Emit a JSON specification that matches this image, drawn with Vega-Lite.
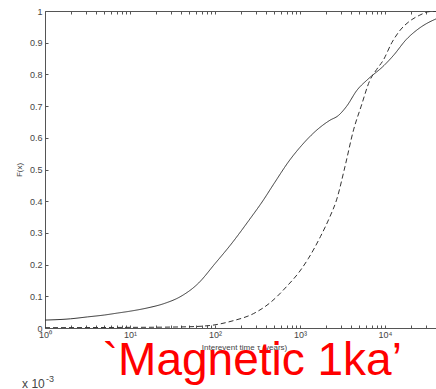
{
  "$schema": "https://vega.github.io/schema/vega-lite/v6.json",
  "autosize": "none",
  "width": 391,
  "height": 317,
  "padding": {"left": 45, "top": 11, "right": 0, "bottom": 61},
  "background": "white",
  "config": {
    "view": {"stroke": null},
    "font": "Liberation Sans",
    "axis": {"domainColor": "#555", "tickColor": "#555", "labelColor": "#444", "titleColor": "#444", "labelFont": "Liberation Sans", "titleFont": "Liberation Sans", "grid": false}
  },
  "datasets": {
    "curves": [
      {"t": 1, "F": 0.025, "model": "solid"},
      {"t": 1.995, "F": 0.029, "model": "solid"},
      {"t": 3.162, "F": 0.035, "model": "solid"},
      {"t": 5.012, "F": 0.041, "model": "solid"},
      {"t": 7.079, "F": 0.047, "model": "solid"},
      {"t": 10, "F": 0.053, "model": "solid"},
      {"t": 15.85, "F": 0.063, "model": "solid"},
      {"t": 25.12, "F": 0.077, "model": "solid"},
      {"t": 39.81, "F": 0.100, "model": "solid"},
      {"t": 63.1, "F": 0.140, "model": "solid"},
      {"t": 100, "F": 0.203, "model": "solid"},
      {"t": 158.5, "F": 0.268, "model": "solid"},
      {"t": 251.2, "F": 0.34, "model": "solid"},
      {"t": 363.1, "F": 0.400, "model": "solid"},
      {"t": 501.2, "F": 0.458, "model": "solid"},
      {"t": 758.6, "F": 0.53, "model": "solid"},
      {"t": 1000, "F": 0.57, "model": "solid"},
      {"t": 1585, "F": 0.625, "model": "solid"},
      {"t": 2239, "F": 0.655, "model": "solid"},
      {"t": 2818, "F": 0.67, "model": "solid"},
      {"t": 3548, "F": 0.70, "model": "solid"},
      {"t": 4677, "F": 0.75, "model": "solid"},
      {"t": 6310, "F": 0.785, "model": "solid"},
      {"t": 9550, "F": 0.826, "model": "solid"},
      {"t": 12589, "F": 0.86, "model": "solid"},
      {"t": 17783, "F": 0.91, "model": "solid"},
      {"t": 25119, "F": 0.945, "model": "solid"},
      {"t": 39811, "F": 0.975, "model": "solid"},
      {"t": 50119, "F": 0.985, "model": "solid"},
      {"t": 1, "F": 0.001, "model": "dashed"},
      {"t": 10, "F": 0.002, "model": "dashed"},
      {"t": 31.62, "F": 0.003, "model": "dashed"},
      {"t": 63.1, "F": 0.005, "model": "dashed"},
      {"t": 100, "F": 0.010, "model": "dashed"},
      {"t": 158.5, "F": 0.022, "model": "dashed"},
      {"t": 281.8, "F": 0.045, "model": "dashed"},
      {"t": 446.7, "F": 0.08, "model": "dashed"},
      {"t": 691.8, "F": 0.13, "model": "dashed"},
      {"t": 1000, "F": 0.18, "model": "dashed"},
      {"t": 1259, "F": 0.22, "model": "dashed"},
      {"t": 1738, "F": 0.288, "model": "dashed"},
      {"t": 2239, "F": 0.35, "model": "dashed"},
      {"t": 2692, "F": 0.404, "model": "dashed"},
      {"t": 3388, "F": 0.51, "model": "dashed"},
      {"t": 4266, "F": 0.625, "model": "dashed"},
      {"t": 5248, "F": 0.70, "model": "dashed"},
      {"t": 6607, "F": 0.78, "model": "dashed"},
      {"t": 7943, "F": 0.815, "model": "dashed"},
      {"t": 9550, "F": 0.845, "model": "dashed"},
      {"t": 12023, "F": 0.90, "model": "dashed"},
      {"t": 15136, "F": 0.94, "model": "dashed"},
      {"t": 19953, "F": 0.97, "model": "dashed"},
      {"t": 25704, "F": 0.987, "model": "dashed"},
      {"t": 33113, "F": 0.998, "model": "dashed"},
      {"t": 50119, "F": 1.0, "model": "dashed"}
    ],
    "one": [{"label": "a"}]
  },
  "resolve": {"axis": {"x": "independent", "y": "independent"}},
  "layer": [
    {
      "data": {"name": "curves"},
      "mark": {"type": "line", "clip": true, "strokeWidth": 1, "color": "#333", "interpolate": "monotone"},
      "encoding": {
        "x": {
          "field": "t", "type": "quantitative",
          "scale": {"type": "log", "domain": [1, 39811], "nice": false},
          "axis": {
            "orient": "bottom",
            "values": [1,2,3,4,5,6,7,8,9,10,20,30,40,50,60,70,80,90,100,200,300,400,500,600,700,800,900,1000,2000,3000,4000,5000,6000,7000,8000,9000,10000,20000,30000],
            "labelExpr": "datum.value == 1 ? '10⁰' : datum.value == 10 ? '10¹' : datum.value == 100 ? '10²' : datum.value == 1000 ? '10³' : datum.value == 10000 ? '10⁴' : ''",
            "tickSize": -3,
            "labelPadding": 5,
            "labelFontSize": 9,
            "labelFlush": false,
            "labelOverlap": false,
            "title": "Interevent time τ (years)",
            "titleFontSize": 8,
            "titleFontWeight": "normal",
            "titleX": 199,
            "titlePadding": 4
          }
        },
        "y": {
          "field": "F", "type": "quantitative",
          "scale": {"domain": [0, 1], "nice": false},
          "axis": {
            "values": [0, 0.1, 0.2, 0.3, 0.4, 0.5, 0.6, 0.7, 0.8, 0.9, 1],
            "format": ".1~f",
            "tickSize": -3,
            "labelPadding": 6,
            "labelFontSize": 9,
            "labelFlush": false,
            "labelOverlap": false,
            "title": "F(x)",
            "titleFontSize": 8,
            "titleFontWeight": "normal",
            "titlePadding": 6
          }
        },
        "strokeDash": {
          "field": "model", "type": "nominal",
          "scale": {"domain": ["solid", "dashed"], "range": [[1, 0], [5, 3]]},
          "legend": null
        }
      }
    },
    {
      "data": {"name": "curves"},
      "mark": {"type": "line", "opacity": 0},
      "encoding": {
        "x": {
          "field": "t", "type": "quantitative",
          "axis": {
            "orient": "top",
            "values": [1,2,3,4,5,6,7,8,9,10,20,30,40,50,60,70,80,90,100,200,300,400,500,600,700,800,900,1000,2000,3000,4000,5000,6000,7000,8000,9000,10000,20000,30000],
            "labels": false,
            "tickSize": -3,
            "title": null
          }
        },
        "y": {"field": "F", "type": "quantitative", "axis": null}
      }
    },
    {
      "data": {"name": "one"},
      "mark": {"type": "text", "font": "Liberation Sans", "fontSize": 46, "color": "#ff0000", "align": "center", "baseline": "alphabetic"},
      "encoding": {
        "x": {"datum": 275, "axis": null},
        "y": {"datum": -0.148, "axis": null},
        "text": {"value": "`Magnetic 1ka’"}
      }
    },
    {
      "data": {"name": "one"},
      "mark": {"type": "text", "font": "Liberation Sans", "fontSize": 12, "color": "#444", "align": "left", "baseline": "alphabetic"},
      "encoding": {
        "x": {"datum": 0.537, "axis": null},
        "y": {"datum": -0.189, "axis": null},
        "text": {"value": "x 10"}
      }
    },
    {
      "data": {"name": "one"},
      "mark": {"type": "text", "font": "Liberation Sans", "fontSize": 9, "color": "#444", "align": "left", "baseline": "alphabetic"},
      "encoding": {
        "x": {"datum": 1.03, "axis": null},
        "y": {"datum": -0.17, "axis": null},
        "text": {"value": "-3"}
      }
    }
  ]
}
